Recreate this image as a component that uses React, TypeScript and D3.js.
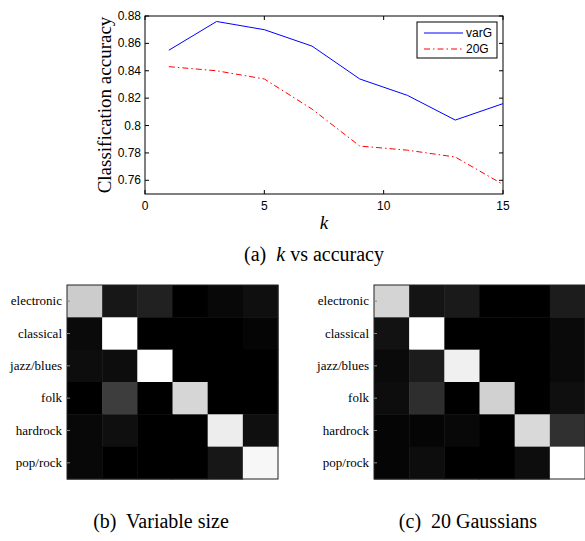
import React from 'react';
import * as d3 from 'd3';

// k vs accuracy
const ks = [1, 3, 5, 7, 9, 11, 13, 15];
const varG = [0.855, 0.876, 0.870, 0.858, 0.834, 0.822, 0.804, 0.816];
const g20 = [0.843, 0.840, 0.834, 0.812, 0.785, 0.782, 0.777, 0.757];
const xTicks = [0, 5, 10, 15];
const yTicks = [0.76, 0.78, 0.8, 0.82, 0.84, 0.86, 0.88];

// confusion matrices (grey level, 0 = black, 1 = white)
const genres = ['electronic', 'classical', 'jazz/blues', 'folk', 'hardrock', 'pop/rock'];
const varSizeMatrix = [
    [0.80, 0.09, 0.13, 0.0, 0.03, 0.06],
    [0.04, 1.0, 0.0, 0.0, 0.0, 0.02],
    [0.05, 0.05, 1.0, 0.0, 0.0, 0.0],
    [0.0, 0.24, 0.0, 0.84, 0.0, 0.0],
    [0.03, 0.06, 0.0, 0.0, 0.93, 0.06],
    [0.03, 0.0, 0.0, 0.0, 0.09, 0.97],
];
const gauss20Matrix = [
    [0.83, 0.08, 0.10, 0.0, 0.0, 0.11],
    [0.07, 1.0, 0.0, 0.0, 0.0, 0.04],
    [0.04, 0.11, 0.94, 0.0, 0.0, 0.04],
    [0.05, 0.18, 0.0, 0.82, 0.0, 0.06],
    [0.02, 0.02, 0.03, 0.0, 0.85, 0.19],
    [0.02, 0.05, 0.0, 0.0, 0.05, 1.0],
];

const sans = '"Liberation Sans", Arial, sans-serif';
const serif = '"Liberation Serif", "Times New Roman", serif';

const LineChart = () => {
    const left = 145, right = 503, top = 16, bottom = 194;
    const x = d3.scaleLinear().domain([0, 15]).range([left, right]);
    const y = d3.scaleLinear().domain([0.75, 0.88]).range([bottom, top]);
    const line = d3.line<number>().x((d, i) => x(ks[i])).y(d => y(d));

    return (
        <g>
            <rect x={left} y={top} width={right - left} height={bottom - top} fill="white" stroke="black" strokeWidth={1} />
            {yTicks.map(t => (
                <g key={t}>
                    <line x1={left} x2={left + 4} y1={y(t)} y2={y(t)} stroke="black" />
                    <line x1={right} x2={right - 4} y1={y(t)} y2={y(t)} stroke="black" />
                    <text x={left - 4} y={y(t) + 4} textAnchor="end" fontFamily={sans} fontSize={12}>{String(t)}</text>
                </g>
            ))}
            {xTicks.map(t => (
                <g key={t}>
                    <line x1={x(t)} x2={x(t)} y1={bottom} y2={bottom - 4} stroke="black" />
                    <line x1={x(t)} x2={x(t)} y1={top} y2={top + 4} stroke="black" />
                    <text x={x(t)} y={bottom + 16} textAnchor="middle" fontFamily={sans} fontSize={12}>{t}</text>
                </g>
            ))}
            <path d={line(varG) || ''} fill="none" stroke="#0000ff" strokeWidth={1} />
            <path d={line(g20) || ''} fill="none" stroke="#ff0000" strokeWidth={1} strokeDasharray="6,3,1.5,3" />
            <text transform={`translate(111,${(top + bottom) / 2}) rotate(-90)`} textAnchor="middle" fontFamily={serif} fontSize={19}>Classification accuracy</text>
            <text x={324} y={229} textAnchor="middle" fontFamily={serif} fontSize={19} fontStyle="italic">k</text>
            <g>
                <rect x={417} y={22} width={80} height={36} fill="white" stroke="black" />
                <line x1={424} x2={463} y1={33} y2={33} stroke="#0000ff" />
                <text x={466} y={37} fontFamily={sans} fontSize={12}>varG</text>
                <line x1={424} x2={463} y1={49} y2={49} stroke="#ff0000" strokeDasharray="6,3,1.5,3" />
                <text x={466} y={53} fontFamily={sans} fontSize={12}>20G</text>
            </g>
            <text x={314} y={261} textAnchor="middle" fontFamily={serif} fontSize={20} style={{ whiteSpace: 'pre' }}>
                {'(a)  '}<tspan fontStyle="italic">k</tspan>{' vs accuracy'}
            </text>
        </g>
    );
};

const Heatmap = ({ matrix, x0, caption }: { matrix: number[][]; x0: number; caption: string }) => {
    const w = 211, top = 285, h = 194;
    const xs = d3.scaleBand<number>().domain(d3.range(6)).range([x0, x0 + w]);
    const ys = d3.scaleBand<string>().domain(genres).range([top, top + h]);
    const grey = d3.scaleLinear<string>().domain([0, 1]).range(['#000000', '#ffffff']);

    return (
        <g>
            {matrix.map((row, i) =>
                row.map((v, j) => (
                    <rect key={`${i}-${j}`} x={xs(j)} y={ys(genres[i])} width={xs.bandwidth() + 0.5} height={ys.bandwidth() + 0.5} fill={grey(v)} />
                ))
            )}
            <rect x={x0} y={top} width={w} height={h} fill="none" stroke="#222" strokeWidth={1} />
            {genres.map(g => (
                <g key={g}>
                    <line x1={x0} x2={x0 + 3} y1={ys(g)! + ys.bandwidth() / 2} y2={ys(g)! + ys.bandwidth() / 2} stroke="#888" />
                    <text x={x0 - 5} y={ys(g)! + ys.bandwidth() / 2 + 4} textAnchor="end" fontFamily={serif} fontSize={13}>{g}</text>
                </g>
            ))}
            <text x={x0 + 94} y={528} textAnchor="middle" fontFamily={serif} fontSize={20} style={{ whiteSpace: 'pre' }}>{caption}</text>
        </g>
    );
};

export default function App() {
    return (
        <svg width={585} height={541} style={{ position: 'absolute', left: 0, top: 0, background: 'white' }}>
            <LineChart />
            <Heatmap matrix={varSizeMatrix} x0={67} caption="(b)  Variable size" />
            <Heatmap matrix={gauss20Matrix} x0={374} caption="(c)  20 Gaussians" />
        </svg>
    );
}
